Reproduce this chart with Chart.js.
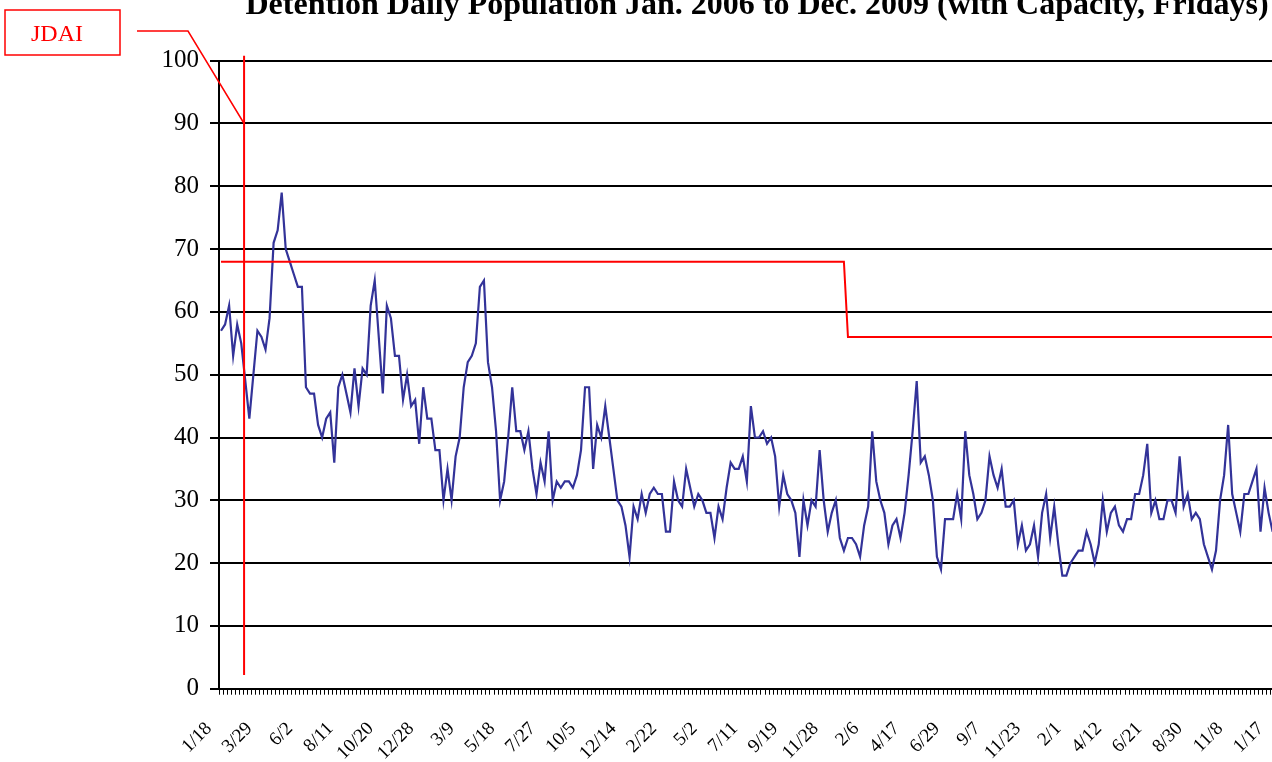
<!DOCTYPE html>
<html lang="en">
<head>
    <meta charset="UTF-8">
    <title>Detention Daily Population</title>
    <style>
        body {
            margin: 0;
            padding: 0;
            background: #fff;
            overflow: hidden;
        }
        .wrap {
            position: absolute;
            left: 0;
            top: -14px;
            width: 1514px;
            height: 776px;
        }
    </style>
    <script src="https://cdn.jsdelivr.net/npm/chart.js"></script>
</head>
<body>
    <div class="wrap"><canvas id="popChart" width="1514" height="776"></canvas></div>

    <script>
        // Friday head count, one value per week
        const population = [
            57, 58, 61, 53, 58, 55, 49, 43, 50, 57,
            56, 54, 59, 71, 73, 79, 70, 68, 66, 64,
            64, 48, 47, 47, 42, 40, 43, 44, 36, 48,
            50, 47, 44, 51, 45, 51, 50, 61, 65, 56,
            47, 61, 59, 53, 53, 46, 50, 45, 46, 39,
            48, 43, 43, 38, 38, 30, 35, 30, 37, 40,
            48, 52, 53, 55, 64, 65, 52, 48, 41, 30,
            33, 40, 48, 41, 41, 38, 41, 35, 31, 36,
            33, 41, 30, 33, 32, 33, 33, 32, 34, 38,
            48, 48, 35, 42, 40, 45, 40, 35, 30, 29,
            26, 21, 29, 27, 31, 28, 31, 32, 31, 31,
            25, 25, 33, 30, 29, 35, 32, 29, 31, 30,
            28, 28, 24, 29, 27, 32, 36, 35, 35, 37,
            33, 45, 40, 40, 41, 39, 40, 37, 29, 34,
            31, 30, 28, 21, 30, 26, 30, 29, 38, 30,
            25, 28, 30, 24, 22, 24, 24, 23, 21, 26,
            29, 41, 33, 30, 28, 23, 26, 27, 24, 28,
            34, 41, 49, 36, 37, 34, 30, 21, 19, 27,
            27, 27, 31, 27, 41, 34, 31, 27, 28, 30,
            37, 34, 32, 35, 29, 29, 30, 23, 26, 22,
            23, 26, 21, 28, 31, 24, 29, 23, 18, 18,
            20, 21, 22, 22, 25, 23, 20, 23, 30, 25,
            28, 29, 26, 25, 27, 27, 31, 31, 34, 39,
            28, 30, 27, 27, 30, 30, 28, 37, 29, 31,
            27, 28, 27, 23, 21, 19, 22, 30, 34, 42,
            31, 28, 25, 31, 31, 33, 35, 25, 32, 28,
            25
        ];

        // dates printed under every tenth week
        const tickDates = [
            '1/18', '3/29', '6/2', '8/11', '10/20', '12/28', '3/9', '5/18', '7/27',
            '10/5', '12/14', '2/22', '5/2', '7/11', '9/19', '11/28', '2/6', '4/17',
            '6/29', '9/7', '11/23', '2/1', '4/12', '6/21', '8/30', '11/8', '1/17'
        ];
        const tickEvery = 10;
        const weekCount = 311;

        // capacity: [week index, beds]
        const capacityPoints = [[0, 68], [154, 68], [155, 56], [261, 56]];

        // JDAI start marker sits between weeks 5 and 6
        const jdaiWeek = 5.7;

        const labels = [];
        for (let i = 0; i < weekCount; i++) {
            const k = i / tickEvery;
            labels.push(i % tickEvery === 0 && tickDates[k] ? tickDates[k] : '');
        }

        const capacity = new Array(weekCount).fill(null);
        capacityPoints.forEach(([i, v]) => { capacity[i] = v; });

        const serif = '"Liberation Serif", "Times New Roman", serif';

        const jdaiNote = {
            id: 'jdaiNote',
            afterDatasetsDraw(chart) {
                const { ctx, scales: { x, y } } = chart;
                const lx = x.getPixelForValue(jdaiWeek);
                ctx.save();
                ctx.strokeStyle = '#ff0000';
                ctx.lineWidth = 2;
                ctx.beginPath();
                ctx.moveTo(lx, y.getPixelForValue(100.8));
                ctx.lineTo(lx, y.getPixelForValue(2.2));
                ctx.stroke();

                // leader from the label box down to the marker
                ctx.lineWidth = 1.5;
                ctx.beginPath();
                ctx.moveTo(137, 45);
                ctx.lineTo(188, 45);
                ctx.lineTo(lx, y.getPixelForValue(90));
                ctx.stroke();

                ctx.strokeRect(5, 24, 115, 45);
                ctx.fillStyle = '#ff0000';
                ctx.font = '24px ' + serif;
                ctx.textAlign = 'center';
                ctx.textBaseline = 'middle';
                ctx.fillText('JDAI', 57, 49);
                ctx.restore();
            }
        };

        const ctx = document.getElementById('popChart').getContext('2d');
        new Chart(ctx, {
            type: 'line',
            data: {
                labels: labels,
                datasets: [
                    {
                        label: 'Capacity',
                        data: capacity,
                        borderColor: '#ff0000',
                        borderWidth: 2,
                        pointRadius: 0,
                        spanGaps: true,
                        tension: 0
                    },
                    {
                        label: 'Population',
                        data: population,
                        borderColor: '#333399',
                        borderWidth: 2.2,
                        pointRadius: 0,
                        tension: 0
                    }
                ]
            },
            options: {
                responsive: false,
                animation: false,
                layout: { padding: 0 },
                plugins: {
                    legend: { display: false },
                    tooltip: { enabled: false },
                    title: {
                        display: true,
                        text: 'Detention Daily Population Jan. 2006 to Dec. 2009 (with Capacity, Fridays)',
                        color: '#000',
                        font: { family: serif, size: 32, weight: 'bold' },
                        padding: { top: 1, bottom: 35.3 }
                    }
                },
                scales: {
                    x: {
                        offset: true,
                        grid: {
                            offset: true,
                            drawOnChartArea: false,
                            drawTicks: true,
                            tickLength: 6,
                            color: '#000',
                            lineWidth: 1
                        },
                        border: { color: '#000', width: 2 },
                        ticks: {
                            autoSkip: false,
                            minRotation: 45,
                            maxRotation: 45,
                            padding: 23,
                            labelOffset: -12,
                            color: '#000',
                            font: { family: serif, size: 19 }
                        },
                        afterFit(scale) { scale.height = 73.3; }
                    },
                    y: {
                        min: 0,
                        max: 100,
                        grid: {
                            color: '#000',
                            lineWidth: 2,
                            drawTicks: true,
                            tickLength: 9
                        },
                        border: { color: '#000', width: 2 },
                        ticks: {
                            stepSize: 10,
                            padding: 11,
                            color: '#000',
                            font: { family: serif, size: 25 }
                        },
                        afterFit(scale) { scale.width = 219; }
                    }
                }
            },
            plugins: [jdaiNote]
        });
    </script>
</body>
</html>
